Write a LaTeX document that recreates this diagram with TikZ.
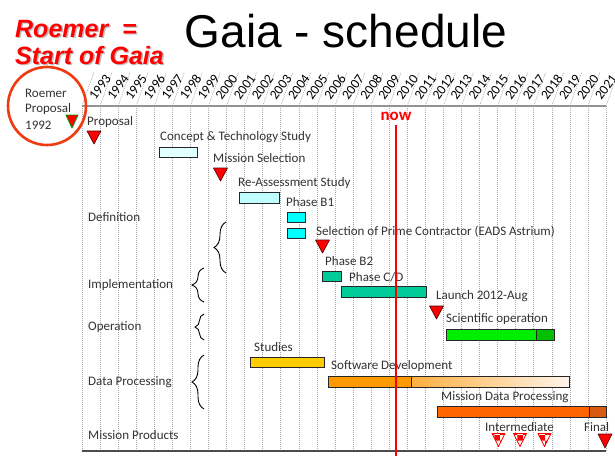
\documentclass[tikz,border=0pt]{standalone}
\usepackage{fontspec}
\setmainfont{Carlito}
\newfontfamily\arialf{Liberation Sans}
\usetikzlibrary{decorations.pathreplacing,patterns}
\definecolor{ccts}{HTML}{E0FFFF}
\definecolor{cras}{HTML}{C0FFFF}
\definecolor{cbone}{HTML}{00FFFF}
\definecolor{cteal}{HTML}{00CC99}
\definecolor{cgreen}{HTML}{00EE00}
\definecolor{cdgreen}{HTML}{00C000}
\definecolor{cstud}{HTML}{FFCC00}
\definecolor{csw}{HTML}{FF9900}
\definecolor{cswa}{HTML}{FFB040}
\definecolor{cswb}{HTML}{FFF4EA}
\definecolor{cmdp}{HTML}{FF6600}
\definecolor{cmdpd}{HTML}{D85A10}
\definecolor{ccirc}{HTML}{F03A10}
\definecolor{ctxt}{HTML}{333333}
\begin{document}
\begin{tikzpicture}[x=1pt,y=-1pt,
  lab/.style={anchor=west,inner sep=0pt,text=ctxt,font=\fontsize{13}{15}\selectfont},
  yearlab/.style={inner sep=0pt,rotate=54,text=black,font=\fontsize{13.5}{15}\selectfont},
  grid/.style={gray!70,line width=0.6pt,dash pattern=on 1pt off 1pt},
  barbox/.style={draw=black!85,line width=0.8pt},
  redtri/.style={fill=red,draw=black!70!red,line width=0.6pt,line join=round},
  chktri/.style={draw=red,line width=0.8pt,line join=round},
  roem/.style={inner sep=0pt,anchor=base west,font=\arialf\bfseries\itshape\fontsize{25}{28}\selectfont},
  bracestyle/.style={decorate,decoration={brace,amplitude=#1},line width=0.9pt,black},
  bracestyle/.default=12]
\useasboundingbox (0,0) rectangle (615,456);
\fill[white] (0,0) rectangle (615,456);
% grid
\foreach \i in {0,...,29}{
  \draw[grid] ({82+18.07*\i},106) -- ({82+18.07*\i},451);
  \draw[grid] ({82+18.07*\i},106) -- ({82+18.07*\i+12},72);
}
\foreach \i in {0,...,28}{
  \pgfmathtruncatemacro\yr{1993+\i}
  \node[yearlab] (y\yr) at ({82+18.07*(\i+0.5)+9},87) {\yr};
}
\draw[gray!85,line width=1.6pt] (82,106) -- (606,106);
\draw[black!70,line width=1.2pt] (82,451) -- (606,451);
% title
\node[inner sep=0pt,anchor=base,font=\arialf\fontsize{46}{50}\selectfont] (title) at (346,47) {Gaia - schedule};
\node[roem,text=gray!50] (rs1) at (16.5,38.5) {Roemer\ \ =};
\node[roem,text=gray!50] (rs2) at (16.5,65.5) {Start of Gaia};
\node[roem,text=red] (r1) at (15,37) {Roemer\ \ =};
\node[roem,text=red] (r2) at (15,64) {Start of Gaia};
% circle
\draw[ccirc,line width=2.6pt] (47,106) circle (39);
\node[lab] (rp1) at (25,93) {Roemer};
\node[lab] (rp2) at (25,109) {Proposal};
\node[lab] (rp3) at (25,125) {1992};
\draw[fill=red,draw=green!60!black,line width=0.9pt,line join=round] (66,115) -- (78,115) -- (72,128) -- cycle;
% left labels
\node[lab] (proposal) at (87,122) {Proposal};
\node[lab] (definition) at (88,217) {Definition};
\node[lab] (impl) at (88,285) {Implementation};
\node[lab] (oper) at (88,327) {Operation};
\node[lab] (dp) at (88,382) {Data Processing};
\node[lab] (mp) at (88,435) {Mission Products};
% braces
\draw[bracestyle] (226,273) -- (226,222);
\draw[bracestyle] (204,302) -- (204,268);
\draw[bracestyle=9] (204,340) -- (204,314);
\draw[bracestyle] (204,409) -- (204,355);
% milestones / bars
\draw[redtri] (87,131) -- (101,131) -- (94,144) -- cycle;
\node[lab] (cts) at (160,137) {Concept \& Technology Study};
\draw[barbox,fill=ccts] (159,147) rectangle (197,157);
\node[lab] (ms) at (213,158) {Mission Selection};
\draw[redtri] (213.5,168) -- (227.5,168) -- (220.5,181) -- cycle;
\node[lab] (ras) at (238,183) {Re-Assessment Study};
\draw[barbox,fill=cras] (239,192.5) rectangle (279,203);
\node[lab] (pb1) at (286,202) {Phase B1};
\draw[barbox,fill=cbone] (287,212.5) rectangle (305,222.5);
\draw[barbox,fill=cbone] (287,228) rectangle (305,238);
\node[lab] (spc) at (316,232) {Selection of Prime Contractor (EADS Astrium)};
\draw[redtri] (315.5,240) -- (329.5,240) -- (322.5,253) -- cycle;
\node[lab] (pb2) at (325,261) {Phase B2};
\draw[barbox,fill=cteal] (322,271) rectangle (341,281.5);
\node[lab] (pcd) at (349,277) {Phase C/D};
\draw[barbox,fill=cteal] (341,286.5) rectangle (426,297.5);
\node[lab] (launch) at (436,296) {Launch 2012-Aug};
\draw[redtri] (429.5,306) -- (443.5,306) -- (436.5,319) -- cycle;
\node[lab] (sci) at (446,319) {Scientific operation};
\fill[cgreen] (446,329) rectangle (536,340);
\fill[cdgreen] (536,329) rectangle (554.5,340);
\draw[barbox] (446,329) rectangle (554.5,340);
\draw[barbox] (536,329) -- (536,340);
\node[lab] (stud) at (254,347) {Studies};
\draw[barbox,fill=cstud] (250,357) rectangle (324.5,367.5);
\node[lab] (swd) at (331,366) {Software Development};
\fill[csw] (328,376) rectangle (411,387);
\shade[left color=cswa,right color=cswb] (411,376) rectangle (569,387);
\draw[barbox] (328,376) rectangle (569,387);
\draw[barbox] (411,376) -- (411,387);
\node[lab] (mdp) at (441,397) {Mission Data Processing};
\fill[cmdp] (437,406.5) rectangle (589,417);
\fill[cmdpd] (589,406.5) rectangle (606.5,417);
\draw[barbox] (437,406.5) rectangle (606.5,417);
\draw[barbox] (589,406.5) -- (589,417);
\node[lab] (inter) at (485,427) {Intermediate};
\foreach \c in {498.5,520,544.5}{
  \fill[white] (\c-6.5,433.5) -- (\c+6.5,433.5) -- (\c,446.5) -- cycle;
  \fill[pattern=checkerboard,pattern color=red] (\c-6.5,433.5) -- (\c+6.5,433.5) -- (\c,446.5) -- cycle;
  \draw[chktri] (\c-6.5,433.5) -- (\c+6.5,433.5) -- (\c,446.5) -- cycle;
}
\node[lab] (final) at (584,427) {Final};
\draw[redtri] (598,434) -- (612,434) -- (605,448) -- cycle;
% now
\node[inner sep=0pt,text=red,font=\bfseries\fontsize{17}{19}\selectfont] (now) at (396,116) {now};
\coordinate (nowend) at (396,456);
\draw[red,line width=1.8pt] (396,125) -- (nowend);
\end{tikzpicture}
\end{document}
